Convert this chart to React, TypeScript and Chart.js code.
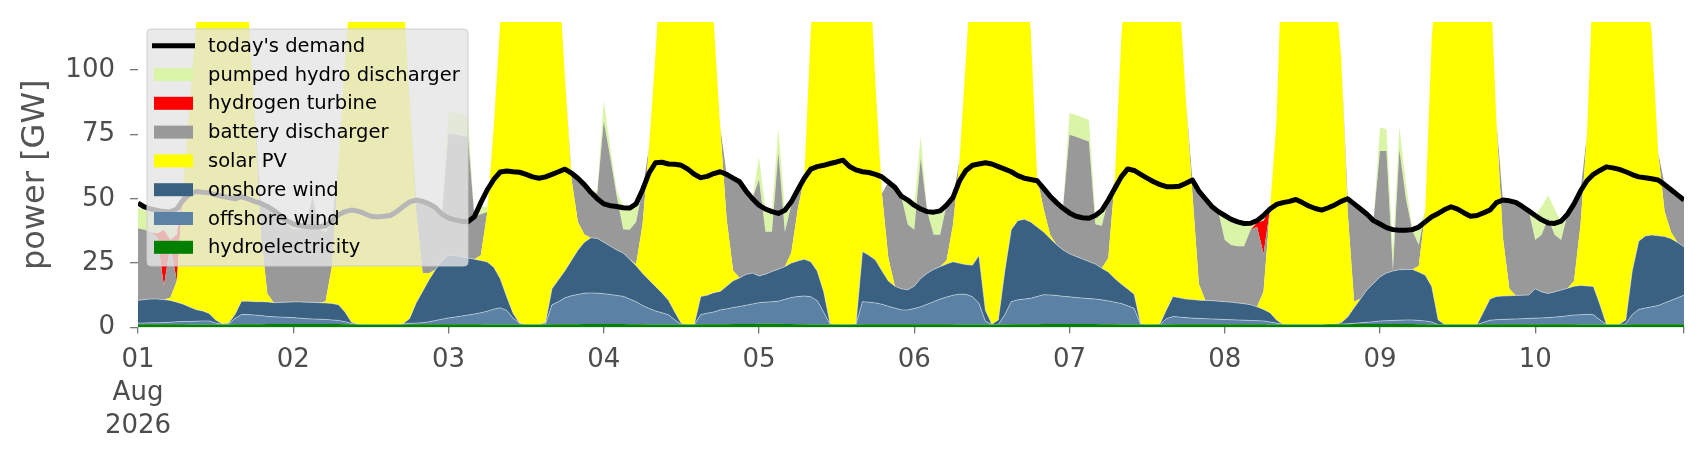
import React, { useEffect, useRef } from 'react';
import { Chart, registerables } from 'chart.js';

Chart.register(...registerables);
Chart.defaults.font.family = 'DejaVu Sans';

// ---- data (hourly, 1 Aug 2026 00:00 .. 10 Aug 2026 23:00), GW ----
const hydroelectricity = [
  1.2,1.2,1.2,1.2,1.2,1.2,1.2,1.2,1.1,1.1,1.1,1.1,1.1,1.1,1.1,1.2,1.2,1.2,1.2,1.2,1.3,1.3,1.3,1.3,
  1.3,1.3,1.3,1.3,1.3,1.3,1.3,1.3,1.2,1.2,1.1,1.1,1.1,1.1,1.1,1.1,1.1,1.1,1.2,1.2,1.2,1.2,1.2,1.2,
  1.2,1.2,1.2,1.2,1.2,1.2,1.1,1.1,1.1,1.1,1.1,1.1,1.1,1.1,1.1,1.1,1.2,1.2,1.2,1.2,1.2,1.3,1.3,1.3,
  1.3,1.3,1.3,1.3,1.2,1.2,1.2,1.1,1.1,1.1,1.1,1.1,1.1,1.1,1.1,1.2,1.2,1.2,1.2,1.2,1.3,1.3,1.3,1.3,
  1.4,1.4,1.4,1.4,1.3,1.3,1.2,1.2,1.1,1.1,1.1,1.1,1.1,1.1,1.1,1.1,1.2,1.2,1.2,1.2,1.2,1.2,1.2,1.2,
  1.2,1.2,1.2,1.2,1.2,1.2,1.2,1.1,1.1,1.1,1.1,1.1,1.1,1.1,1.1,1.2,1.2,1.2,1.2,1.2,1.3,1.3,1.3,1.3,
  1.3,1.3,1.3,1.3,1.3,1.2,1.2,1.2,1.1,1.1,1.1,1.1,1.1,1.1,1.1,1.1,1.2,1.2,1.2,1.2,1.2,1.2,1.2,1.2,
  1.2,1.2,1.2,1.2,1.2,1.2,1.2,1.1,1.1,1.1,1.1,1.1,1.1,1.1,1.1,1.1,1.2,1.2,1.2,1.2,1.3,1.3,1.3,1.3,
  1.3,1.3,1.3,1.3,1.3,1.3,1.2,1.2,1.1,1.1,1.1,1.1,1.1,1.1,1.1,1.1,1.2,1.2,1.2,1.2,1.2,1.2,1.2,1.2,
  1.2,1.2,1.2,1.2,1.2,1.2,1.2,1.1,1.1,1.1,1.1,1.1,1.1,1.1,1.1,1.2,1.2,1.2,1.2,1.2,1.2,1.2,1.2,1.2,
];

const offshoreWind = [
  0.5,0.5,0.6,0.6,0.7,0.8,1.0,1.1,1.2,1.3,1.4,1.4,0.6,0.1,0.2,2.3,3.8,3.8,3.6,3.4,3.0,2.8,2.7,2.6,
  2.5,2.3,2.1,2.0,1.9,1.8,1.6,1.4,1.0,0.3,0,0,0,0,0,0,0,0.2,0.4,0.5,0.6,1.0,1.5,2.0,
  2.5,2.8,3.2,3.6,4.0,4.5,5.2,6.0,6.5,5.5,2.5,0.5,0,0,0,0.3,7.6,8.8,10.3,11.1,11.6,12.0,12.1,12.0,
  11.8,11.5,11.1,10.8,9.8,8.8,7.3,6.3,5.3,4.6,3.8,1.8,0,0,0,3.8,4.3,4.8,5.6,6.0,6.4,6.8,7.3,7.8,
  8.2,8.4,8.6,8.8,9.6,10.3,10.8,11.0,10.8,9.3,4.8,0,0,0,0,0.1,8.8,8.6,8.3,7.8,7.0,6.3,5.6,5.6,
  6.1,6.8,7.8,8.8,9.8,10.6,11.3,11.8,11.8,10.8,8.3,1.3,0,0,3.8,8.8,9.5,9.8,10.1,10.8,11.4,11.3,11.1,10.8,
  10.6,10.3,10.1,9.9,9.7,9.5,9.1,8.6,8.2,7.3,6.3,0,0,0,0,2.3,3.0,2.8,2.6,2.4,2.3,2.2,2.1,2.0,
  1.9,1.8,1.7,1.6,1.5,1.4,1.3,1.0,0.6,0.1,0,0,0,0,0,0,0,0,0.1,0.2,0.3,0.5,0.7,0.9,
  1.2,1.3,1.4,1.5,1.6,1.6,1.5,1.3,1.0,0,0,0,0,0,0,0,0.8,1.6,1.8,1.9,2.0,2.1,2.2,2.3,
  2.4,2.5,2.6,2.8,3.0,3.3,3.6,3.8,4.0,3.8,1.8,0,0,0,0.3,3.8,5.8,6.3,6.8,7.3,8.3,9.3,10.3,11.3,
];

const onshoreWind = [
  8.8,9.1,9.2,9.2,8.9,8.5,7.6,6.7,5.6,4.5,3.9,2.9,1.2,0.2,0.3,1.5,5.2,5.2,5.2,5.4,5.6,5.5,5.7,5.9,
  6.1,6.3,6.4,6.4,6.4,6.4,6.4,6.1,3.8,0.5,0.1,0,0,0,0,0,0,0.1,1.9,7.8,12.2,16.3,19.8,22.8,
  24.3,24.0,23.1,22.2,21.3,20.3,19.1,16.3,11.3,5.3,1.8,0,0,0,0,0.5,6.2,8.5,10.5,13.7,17.2,19.8,21.4,21.3,
  20,18.8,17.7,16.8,15.5,14,12.5,11,9.5,7.7,5.7,3,0.4,0,0.1,7,7,7.5,7.2,8.8,10.4,11.1,12,12,
  10.4,10.9,11.7,12.4,12.7,13.4,13.8,14.3,13.6,11.5,8,0.3,0,0,0,0.2,19.5,18.2,16.7,13,9.8,8.5,8.2,7.8,
  8.7,11,12,12.5,12.6,12.8,13,12,11.5,12.3,18.5,4.3,0.1,1.8,17,28,30.8,31,29.7,27,24.4,22,19.7,18,
  16.7,16,15.2,14.4,13.6,12.3,11.2,9.2,7.6,6.5,5.5,0.3,0,0,0.3,3.5,7.8,7.5,7.2,7.2,7.1,7.1,7.1,7.0,
  6.9,6.8,6.6,6.4,6.1,5.4,4.5,3.6,1.2,0,0,0,0,0,0,0,0,0,0.5,2.6,6,9.3,12.6,14.9,
  17.1,18.5,19.2,19.6,19.6,19.6,18.8,17.8,13.8,1.8,0,0,0,0,0,0,4,8.2,9,9.1,9.1,9.1,9.1,9.1,
  11.4,10.1,9.4,9.8,10.3,10.7,11.2,11.4,11,11,6,0.1,0,0.1,1.5,17,26.5,28,27.9,27.1,25.8,24,21.5,18.8,
];

const solarPV = [
  0,0,0,0,0,1,8.2,46,79,111,133.5,149.5,157,160.5,156.3,145,127.8,114.8,74,26,3.2,0,0,0,
  0,0,0,0,0,0.6,14.8,54.3,99,133,148.7,156.8,158.8,156.8,153.8,148.8,140.8,129.5,84.5,35.5,7,2.5,0,0,
  0,0,0,0,0,2,19.5,54.5,99.7,138,159.5,168.3,170.8,168.8,163.8,156,133,121.5,75,32,11,3,0,0,
  0,0,0,0,0,0.5,19,51.5,90,134.5,154.3,166,173.4,170.8,163.7,138,127.5,105.5,64,26,4,0,0,0,
  0,0,0,0,0,4.1,20.2,31.5,89.4,128,151,170.5,173.8,168.8,163.8,158.5,120.5,117,68.8,30,9,0,0,0,
  0,0,0,0,0,1.4,14.5,40,80.5,120.7,132,161.2,170.7,167,143,120,108.5,93,75,19,9,1.5,0,0,
  0,0,0,0,0,0,5.5,38,95,135,152,168.5,170.8,168.8,163.5,148,133,118.5,77,41.2,6.4,0,0,0,
  0,0,0,0,0,0,7,40.2,77,153.7,166.8,170.8,172.8,170.8,166.8,160.8,150.8,133.8,103.2,41,2.5,0,0,0,
  0,0,0,0,0,0,2.5,24.7,96,147,163.8,168.8,170.8,168.8,163.8,153.8,142,129,68,22.8,2.7,0,0,0,
  0,0,0,0,0,0,2,23.6,58.8,124,151,168.7,170.8,168.7,162,138,116.5,99.5,79.1,32.4,9.7,2.5,0,0,
];

const batteryDischarger = [
  28,27.2,26,24,5.2,20.5,0,0,0,0,0,0,0,0,0,0,0,0,0,12,34,36,33.9,30.3,
  28.2,28.2,30.3,41.4,28.5,27,16,0,0,0,0,0,0,0,0,0,0,0,0,4.5,28,27,24,18,
  47.5,47,47,47,16.5,16,0,0,0,0,0,0,0,0,0,0,0,0,0,2,17,19.5,17.8,17.5,
  47,34.5,21,9.2,11.5,16.5,13.5,0,0,0,0,0,0,0,0,0,0,0,0,17.5,36,37.5,32.5,29,
  37.5,16.5,15.5,45.3,13.5,18.5,7.5,0,0,0,0,0,0,0,0,0,0,0,0,0,29.5,38.5,36,25.4,
  22,46.7,24,13.5,12.4,21.5,10.5,0,0,0,0,0,0,0,0,0,0,0,0,0,8,15,16.5,16.3,
  46.3,46.5,46.5,46.7,15.5,16.5,22.5,0,0,0,0,0,0,0,0,0,0,0,0,5.3,36,39.5,36.6,34.8,
  24,22.2,22,22.3,29.2,31,14.5,0,0,0,0,0,0,0,0,0,0,0,0,5,38,35,29.5,24.5,
  49,47.5,0.2,46.7,27.6,15.1,8,0,0,0,0,0,0,0,0,0,0,0,0,14.5,34.2,36.2,34.5,32.7,
  19,22.2,29.2,22.2,19.5,28.8,30,13,0,0,0,0,0,0,0,0,0,0,0,0,10.5,16.5,18.5,18.2,
];

const hydrogenTurbine = [
  0,0,0,1.5,22,2,18,0,0,0,0,0,0,0,0,0,0,0,0,0,0,0,0,0,
  0,0,0,0,0,0,0,0,0,0,0,0,0,0,0,0,0,0,0,0,0,0,0,0,
  0,0,0,0,0,0,0,0,0,0,0,0,0,0,0,0,0,0,0,0,0,0,0,0,
  0,0,0,0,0,0,0,0,0,0,0,0,0,0,0,0,0,0,0,0,0,0,0,0,
  0,0,0,0,0,0,0,0,0,0,0,0,0,0,0,0,0,0,0,0,0,0,0,0,
  0,0,0,0,0,0,0,0,0,0,0,0,0,0,0,0,0,0,0,0,0,0,0,0,
  0,0,0,0,0,0,0,0,0,0,0,0,0,0,0,0,0,0,0,0,0,0,0,0,
  0,0,0,0,0,1.8,13,0,0,0,0,0,0,0,0,0,0,0,0,0,0,0,0,0,
  0,0,0,0,0,0,0,0,0,0,0,0,0,0,0,0,0,0,0,0,0,0,0,0,
  0,0,0,0,0,0,0,0,0,0,0,0,0,0,0,0,0,0,0,0,0,0,0,0,
];

const pumpedHydroDischarger = [
  8,7.5,7.5,6.5,4,6,3,0,0,0,0,0,0,0,0,0,0,0,0,0,0,0,0,2,
  3,1.6,0,1,1,2.5,1.5,0,0,0,0,0,0,0,0,0,0,0,0,0,0,0,0,0,
  8.5,8.5,8.5,8,0,3,2,0,0,0,0,0,0,0,0,0,0,0,0,0,0,0,0,1,
  8,4,2,8.8,8.4,6,0,0,0,0,0,0,0,0,0,0,0,0,0,0,0,0,0,0,
  8.7,9,8,9.3,8.5,1.3,0,0,0,0,0,0,0,0,0,0,0,0,0,0,0,0,0,9.5,
  9.5,8.8,0,8.8,9.3,0,0,0,0,0,0,0,0,0,0,0,0,0,0,0,0,0,0,0,
  8.4,8.5,8.5,8.4,3.5,6,0,0,0,0,0,0,0,0,0,0,0,0,0,0,0,0,0,0,
  9.5,10,9.5,9,2.3,0,2,0,0,0,0,0,0,0,0,0,0,0,0,0,0,0,0,0,
  9,8.5,8,9,6,0.5,7,0,0,0,0,0,0,0,0,0,0,0,0,0,0,0,0,0,
  9.5,11,9,10,7.3,0,0,0,0,0,0,0,0,0,0,0,0,0,0,0,0,0,0,0,
];

const todaysDemand = [
  48.3,46.8,46,45.5,45,44.9,46,49.5,52,52.8,52.5,52.3,51.5,51,50.5,50,50.8,50,49,48.2,47,45.5,43.5,41.5,
  40.2,39.6,39.2,39,39.1,39.5,41.5,43.8,45,45.6,45.2,44.3,43.2,42.9,43.2,43.5,45,47,48.8,49.5,49,48,46.5,44,
  42.5,41.8,41.3,41.1,43,48.5,53.5,57.5,60.4,60.8,60.5,60.3,59.5,58.5,58,58.5,59.5,60.5,61.5,60,58,55.5,52.5,50,
  48,47.3,47,46.5,46.4,48,53.5,60,64,64.2,63.5,63.4,63,61.5,59.5,58.2,58.7,59.8,60.5,59.5,58,56.6,53,50,
  47.5,46,45,44.3,45.5,48.8,53.5,58,61.5,62.5,63,63.7,64.3,65,62.5,61.2,60.5,60.2,59.5,58.5,56.5,54.5,51,49.5,
  47.5,46,45,44.8,45.3,47.5,50.5,57,61,63,63.5,64,63.5,62.5,61.5,60.5,59,58,57.5,57,54,51,48.5,46.3,
  44.5,43.2,42.6,42.4,43.5,45.5,49.5,54,58.5,61.6,61,59.5,58,56.6,55.5,54.7,54.7,54.9,56,57.3,53,50,47,45,
  43.5,42,41,40.4,40.5,41.5,43.5,46,47.8,48.5,49,49.7,48.5,47.2,46.2,45.6,46.5,47.6,49,50,48,46,44,41.5,
  40.2,38.8,38,37.8,37.8,38,39,41,43,44.3,45.8,46.9,46,44.5,43.2,43.5,44.5,45.6,48.5,49.5,49.2,48.6,47,45.3,
  43.5,41.8,40.6,40.4,41.3,44,48,53,57,59.5,61,62.4,62,61.4,60.5,59.4,58.5,58.2,57.8,57.3,55.5,53.5,51.5,49.5,
];

const dayTickHours = [0, 24, 48, 72, 96, 120, 144, 168, 192, 216, 239];
const dayTickLabels: (string | string[])[] = [['01', 'Aug', '2026'], '02', '03', '04', '05', '06', '07', '08', '09', '10', ''];
const yTickValues = [0, 25, 50, 75, 100];
const yMax = 118.7;

const stackSeries = [hydroelectricity, offshoreWind, onshoreWind, solarPV, batteryDischarger, hydrogenTurbine, pumpedHydroDischarger];
const stackNames = ['hydroelectricity', 'offshore wind', 'onshore wind', 'solar PV', 'battery discharger', 'hydrogen turbine', 'pumped hydro discharger'];
const stackColors = ['#008000', '#5b82a4', '#3b6182', '#ffff00', '#999999', '#ff0000', '#daf5a8'];
const demandName = "today's demand";

const legendPlugin = {
  id: 'boxLegend',
  afterDraw(chart: any) {
    const ctx = chart.ctx as CanvasRenderingContext2D;
    const { left, top } = chart.chartArea;
    const bx = left + 9;
    const by = top + 7;
    const bw = 321;
    const bh = 237;
    ctx.save();
    ctx.beginPath();
    (ctx as any).roundRect(bx, by, bw, bh, 4);
    ctx.fillStyle = 'rgba(229,229,229,0.8)';
    ctx.fill();
    ctx.lineWidth = 1;
    ctx.strokeStyle = 'rgba(204,204,204,0.9)';
    ctx.stroke();

    const entries: { label: string; color: string; line: boolean }[] = [
      { label: demandName, color: '#000000', line: true },
    ];
    for (let k = stackNames.length - 1; k >= 0; k--) {
      entries.push({ label: stackNames[k], color: stackColors[k], line: false });
    }
    ctx.font = '19.5px "DejaVu Sans"';
    ctx.textBaseline = 'middle';
    ctx.textAlign = 'left';
    entries.forEach((e, i) => {
      const cy = top + 23.7 + i * 28.8;
      if (e.line) {
        ctx.beginPath();
        ctx.moveTo(left + 14, cy);
        ctx.lineTo(left + 57, cy);
        ctx.lineWidth = 5;
        ctx.strokeStyle = e.color;
        ctx.stroke();
      } else {
        ctx.fillStyle = e.color;
        ctx.fillRect(left + 16, cy - 6.5, 39, 13);
      }
      ctx.fillStyle = '#000000';
      ctx.fillText(e.label, left + 70, cy + 1);
    });
    ctx.restore();
  },
};

export default function App() {
  const canvasRef = useRef<HTMLCanvasElement | null>(null);

  useEffect(() => {
    if (!canvasRef.current) return;
    const hours = todaysDemand.map((_, i) => i);
    const datasets: any[] = stackSeries.map((arr, k) => ({
      label: stackNames[k],
      data: arr.map((v, i) => ({ x: hours[i], y: v })),
      backgroundColor: stackColors[k],
      borderColor: k === 1 || k === 2 ? 'rgba(255,255,255,0.55)' : 'rgba(0,0,0,0)',
      borderWidth: k === 1 || k === 2 ? 0.8 : 0,
      fill: k === 0 ? 'origin' : '-1',
      pointRadius: 0,
      tension: 0,
      stack: 'supply',
      order: 1,
    }));
    datasets.push({
      label: demandName,
      data: todaysDemand.map((v, i) => ({ x: hours[i], y: v })),
      borderColor: '#000000',
      borderWidth: 5,
      backgroundColor: '#000000',
      fill: false,
      pointRadius: 0,
      tension: 0,
      stack: 'demand',
      order: 0,
      borderJoinStyle: 'round',
      borderCapStyle: 'butt',
    });

    const tickFont = { family: 'DejaVu Sans', size: 26, lineHeight: 1.27 };
    const chart = new Chart(canvasRef.current, {
      type: 'line',
      data: { datasets },
      plugins: [legendPlugin],
      options: {
        animation: false,
        responsive: false,
        events: [],
        layout: { padding: { left: 0, top: 22, right: 22, bottom: 0 } },
        plugins: {
          legend: { display: false },
          tooltip: { enabled: false },
        },
        scales: {
          x: {
            type: 'linear',
            min: 0,
            max: hours[hours.length - 1],
            afterBuildTicks: (scale: any) => {
              scale.ticks = dayTickHours.map((v) => ({ value: v }));
            },
            ticks: {
              autoSkip: false,
              maxRotation: 0,
              font: tickFont,
              color: '#4d4d4d',
              padding: 10,
              callback: (_v: any, index: number) => dayTickLabels[index],
            },
            grid: { drawOnChartArea: false, drawTicks: true, tickLength: 6, color: '#777777', lineWidth: 1.3 },
            border: { display: false },
            afterFit: (scale: any) => {
              scale.height = 132.6;
              scale.paddingLeft = 0;
              scale.paddingRight = 0;
            },
          },
          y: {
            type: 'linear',
            stacked: true,
            min: 0,
            max: yMax,
            afterBuildTicks: (scale: any) => {
              scale.ticks = yTickValues.map((v) => ({ value: v }));
            },
            ticks: {
              font: tickFont,
              color: '#4d4d4d',
              padding: 15,
              callback: (v: any) => String(v),
            },
            grid: { drawOnChartArea: false, drawTicks: true, tickLength: 8, color: '#777777', lineWidth: 1.3 },
            border: { display: false },
            title: {
              display: true,
              text: 'power [GW]',
              color: '#555555',
              font: { family: 'DejaVu Sans', size: 32 },
              padding: { top: 16, bottom: 0 },
            },
            afterFit: (scale: any) => {
              scale.width = 138;
              scale.paddingTop = 0;
              scale.paddingBottom = 0;
            },
          },
        },
      } as any,
    });
    return () => chart.destroy();
  }, []);

  return (
    <div style={{ position: 'fixed', left: 0, top: 0, width: 1706, height: 460, background: '#ffffff' }}>
      <canvas ref={canvasRef} width={1706} height={460} style={{ display: 'block', width: 1706, height: 460 }} />
    </div>
  );
}
